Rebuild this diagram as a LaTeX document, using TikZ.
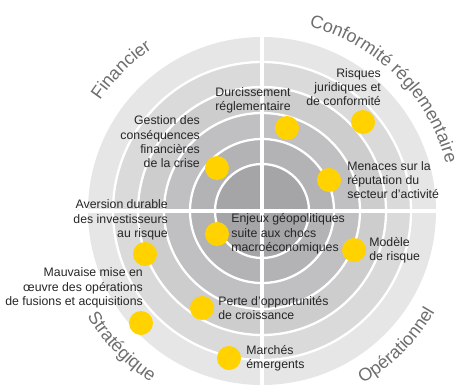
\documentclass[tikz,border=0pt]{standalone}
\usepackage{fontspec}
\setmainfont{Liberation Sans}
\usepackage{tikz}
\usetikzlibrary{positioning,decorations.text}
\definecolor{eyyellow}{HTML}{FFD200}
\definecolor{ringa}{HTML}{E6E6E7}
\definecolor{ringb}{HTML}{DADADB}
\definecolor{ringc}{HTML}{CDCDCE}
\definecolor{ringd}{HTML}{C0C0C2}
\definecolor{ringe}{HTML}{B3B3B5}
\definecolor{ringf}{HTML}{A5A5A7}
\definecolor{labelgray}{HTML}{262626}
\definecolor{catgray}{HTML}{6E6E70}
\newcommand{\catfont}{\fontsize{18}{18}\selectfont}

\begin{document}
\begin{tikzpicture}[x=1pt,y=1pt]
\tikzstyle{ring}=[draw=white, line width=2.3pt]
\tikzstyle{axis}=[draw=white, line width=4pt]
\tikzstyle{dot}=[circle, fill=eyyellow, minimum size=24pt, inner sep=0pt]
\tikzstyle{lbl}=[inner sep=0pt, text=labelgray, font=\fontsize{12.3}{14.3}\selectfont]
\tikzstyle{cat}=[decorate, decoration={text along path, text align=center, text color=catgray}]
  \useasboundingbox (-262,-180) rectangle (200,211);
  \fill[ringa] (0,0) circle (174);
  \foreach \r/\c in {149/ringb,124/ringc,98/ringd,72/ringe,47/ringf}
    \filldraw[ring, fill=\c] (0,0) circle (\r);
  \path[axis] (0,-174) -- (0,174) (-174,0) -- (174,0);
  % categories
  \path[cat, decoration={text={|\catfont|Financier}}] (175:196) arc[start angle=175, end angle=95, radius=196];
  \path[cat, decoration={text={|\catfont|Conformité réglementaire}}] (95:190) arc[start angle=95, end angle=-5, radius=190];
  \path[cat, decoration={text={|\catfont|Opérationnel}}] (-85:200) arc[start angle=-85, end angle=-5, radius=200];
  \path[cat, decoration={text={|\catfont|Stratégique}}] (184:204) arc[start angle=184, end angle=264, radius=204];
  % risks
  \node[dot] (gestion) at (-45,43) {};
  \node[dot] (durcis) at (25,83) {};
  \node[dot] (juridique) at (101,89) {};
  \node[dot] (menaces) at (67,31) {};
  \node[dot] (enjeux) at (-45,-23) {};
  \node[dot] (aversion) at (-117,-43) {};
  \node[dot] (fusions) at (-121,-112) {};
  \node[dot] (perte) at (-60,-97) {};
  \node[dot] (marches) at (-33,-147) {};
  \node[dot] (modele) at (92,-39) {};
  \node[lbl, align=right, anchor=east] (gestionT) at (-62,69) {Gestion des\\conséquences\\financières\\de la crise};
  \node[lbl, align=center] (durcisT) at (-9,111) {Durcissement\\réglementaire};
  \node[lbl, align=right, anchor=east] (juridiqueT) at (119,124) {Risques\\juridiques et\\de conformité};
  \node[lbl, align=left, right=6pt of menaces] (menacesT) {Menaces sur la\\réputation du\\secteur d’activité};
  \node[lbl, align=left, right=2pt of enjeux] (enjeuxT) {Enjeux géopolitiques\\suite aux chocs\\macroéconomiques};
  \node[lbl, align=left, right=3pt of modele] (modeleT) {Modèle\\de risque};
  \node[lbl, align=right, anchor=east] (aversionT) at (-94,-9) {Aversion durable\\des investisseurs\\au risque};
  \node[lbl, align=right, anchor=east] (fusionsT) at (-119,-77) {Mauvaise mise en\\œuvre des opérations\\de fusions et acquisitions};
  \node[lbl, align=left, right=4pt of perte] (perteT) {Perte d’opportunités\\de croissance};
  \node[lbl, align=left, right=5pt of marches] (marchesT) {Marchés\\émergents};
\end{tikzpicture}
\end{document}
